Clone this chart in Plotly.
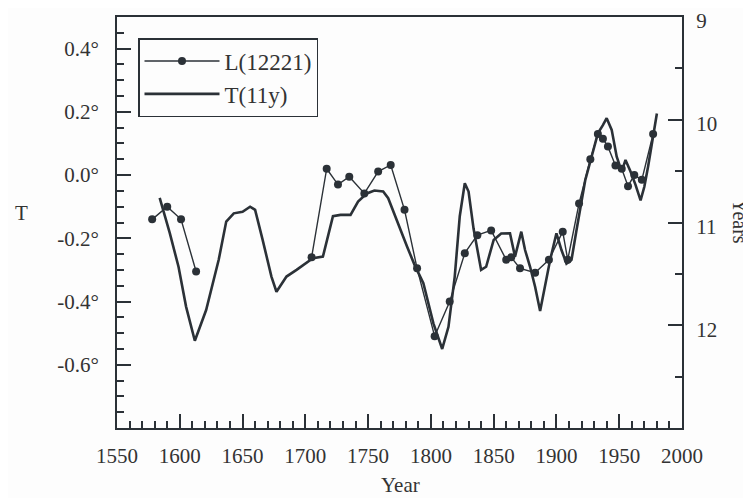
import plotly.graph_objects as go

# L(12221) series (line with markers); None marks the gap
l_years = [1578, 1590, 1601, 1613, None, 1705, 1717, 1726, 1735, 1747, 1758, 1768, 1779, 1789,
           1803, 1815, 1827, 1837, 1848, 1860, 1864, 1871, 1883, 1894, 1905, 1909, 1918,
           1927, 1933, 1937, 1941, 1947, 1952, 1957, 1962, 1968, 1977]
l_vals = [-0.14, -0.10, -0.14, -0.305, None, -0.26, 0.02, -0.03, -0.005, -0.058, 0.011, 0.032, -0.11, -0.295,
          -0.51, -0.40, -0.247, -0.19, -0.175, -0.268, -0.26, -0.295, -0.309, -0.268, -0.179, -0.268, -0.09,
          0.05, 0.13, 0.115, 0.09, 0.03, 0.02, -0.035, 0.0, -0.015, 0.13]

# T(11y) series (solid line)
t_years = [1584, 1592, 1599, 1605, 1612, 1621, 1631, 1637, 1643, 1650, 1656, 1660, 1666, 1673, 1677,
           1685, 1693, 1700, 1706, 1714, 1722, 1728, 1736, 1742, 1749, 1755, 1762, 1766, 1773, 1781,
           1787, 1794, 1802, 1809, 1814, 1819, 1823, 1827, 1830, 1834, 1840, 1844, 1850, 1856, 1863,
           1867, 1872, 1875, 1879, 1883, 1887, 1891, 1895, 1900, 1904, 1908, 1912, 1916, 1919, 1923,
           1928, 1933, 1937, 1940, 1944, 1948, 1952, 1955, 1959, 1963, 1967, 1970, 1973, 1977, 1980]
t_vals = [-0.072, -0.183, -0.29, -0.416, -0.524, -0.427, -0.268, -0.147, -0.121, -0.116, -0.10, -0.11,
          -0.205, -0.321, -0.369, -0.321, -0.30, -0.279, -0.263, -0.258, -0.13, -0.126, -0.126, -0.084,
          -0.058, -0.049, -0.052, -0.073, -0.147, -0.226, -0.284, -0.342, -0.469, -0.55, -0.48, -0.321,
          -0.13, -0.026, -0.052, -0.17, -0.30, -0.29, -0.205, -0.185, -0.184, -0.258, -0.179, -0.237,
          -0.29, -0.353, -0.43, -0.353, -0.268, -0.184, -0.237, -0.28, -0.268, -0.174, -0.10, -0.015,
          0.058, 0.132, 0.158, 0.18, 0.143, 0.058, 0.011, 0.048, 0.011, -0.031, -0.08, -0.037, 0.027,
          0.121, 0.195]

x_ticks = [1550, 1600, 1650, 1700, 1750, 1800, 1850, 1900, 1950, 2000]
y_ticks = [0.4, 0.2, 0.0, -0.2, -0.4, -0.6]
y_tick_labels = ["0.4°", "0.2°", "0.0°", "-0.2°", "-0.4°", "-0.6°"]
y2_ticks = [9, 10, 11, 12]

INK = "#2b3137"
TXT = "#333"
FONT = "Liberation Serif"
OFF = 8  # page body margin offset
PL, PT, PW, PH = 117, 17, 565, 411  # plot area in screen pixels


def px(x):
    return (x - PL) / PW


def py(y):
    return 1 - (y - PT) / PH


fig = go.Figure()
fig.add_trace(go.Scatter(x=l_years, y=l_vals, name="L(12221)", mode="lines+markers",
                         line=dict(color=INK, width=1.4), marker=dict(color=INK, size=8),
                         connectgaps=False))
fig.add_trace(go.Scatter(x=t_years, y=t_vals, name="T(11y)", mode="lines",
                         line=dict(color=INK, width=2.6)))
# invisible trace to activate the right axis
fig.add_trace(go.Scatter(x=[None], y=[None], yaxis="y2", showlegend=False, hoverinfo="skip"))

fig.update_layout(
    width=751 - OFF, height=498 - OFF,
    margin=dict(l=PL - OFF, r=751 - OFF - (PL - OFF) - PW, t=PT - OFF,
                b=498 - OFF - (PT - OFF) - PH, autoexpand=False),
    paper_bgcolor="#fdfdfd", plot_bgcolor="#fdfdfd",
    font=dict(family=FONT, size=21, color=TXT),
    showlegend=True,
    legend=dict(x=px(138), y=py(38), xanchor="left", yanchor="top",
                bordercolor=INK, borderwidth=1.5, bgcolor="rgba(0,0,0,0)",
                font=dict(family=FONT, size=23, color=TXT),
                itemwidth=75, tracegroupgap=0),
    xaxis=dict(range=[1550, 2000], tickvals=x_ticks, ticks="inside", ticklen=14, tickwidth=1.5,
               tickcolor=INK, showline=True, linecolor=INK, linewidth=2, mirror=True,
               showgrid=False, zeroline=False, ticklabelstandoff=8, automargin=False,
               ticklabeloverflow="allow",
               minor=dict(dtick=10, ticks="inside", ticklen=7, tickcolor=INK, showgrid=False)),
    yaxis=dict(range=[-0.8, 0.5], tickvals=y_ticks, ticktext=y_tick_labels, ticks="inside",
               ticklen=14, tickwidth=1.5, tickcolor=INK, showline=True, linecolor=INK, linewidth=2,
               showgrid=False, zeroline=False, ticklabelstandoff=12, automargin=False,
               ticklabeloverflow="allow",
               minor=dict(dtick=0.05, tick0=0, ticks="inside", ticklen=7, tickcolor=INK, showgrid=False)),
    yaxis2=dict(range=[13, 9], overlaying="y", side="right", tickvals=y2_ticks, ticks="inside",
                ticklen=14, tickwidth=1.5, tickcolor=INK, showline=True, linecolor=INK, linewidth=2,
                showgrid=False, zeroline=False, ticklabelstandoff=8, automargin=False,
                ticklabeloverflow="allow", ticklabelshift=-4,
                minor=dict(dtick=0.5, tick0=9, ticks="inside", ticklen=7, tickcolor=INK, showgrid=False)),
    annotations=[
        dict(text="T", x=px(21), y=py(213), xref="paper", yref="paper", showarrow=False,
             xanchor="center", yanchor="middle", font=dict(family=FONT, size=21, color=TXT)),
        dict(text="Year", x=px(400), y=py(485), xref="paper", yref="paper", showarrow=False,
             xanchor="center", yanchor="middle", font=dict(family=FONT, size=21, color=TXT)),
        dict(text="Years", x=px(740), y=py(221), xref="paper", yref="paper", showarrow=False,
             xanchor="center", yanchor="middle", textangle=90,
             font=dict(family=FONT, size=20, color=TXT)),
    ],
)

fig.write_html("out.html")
